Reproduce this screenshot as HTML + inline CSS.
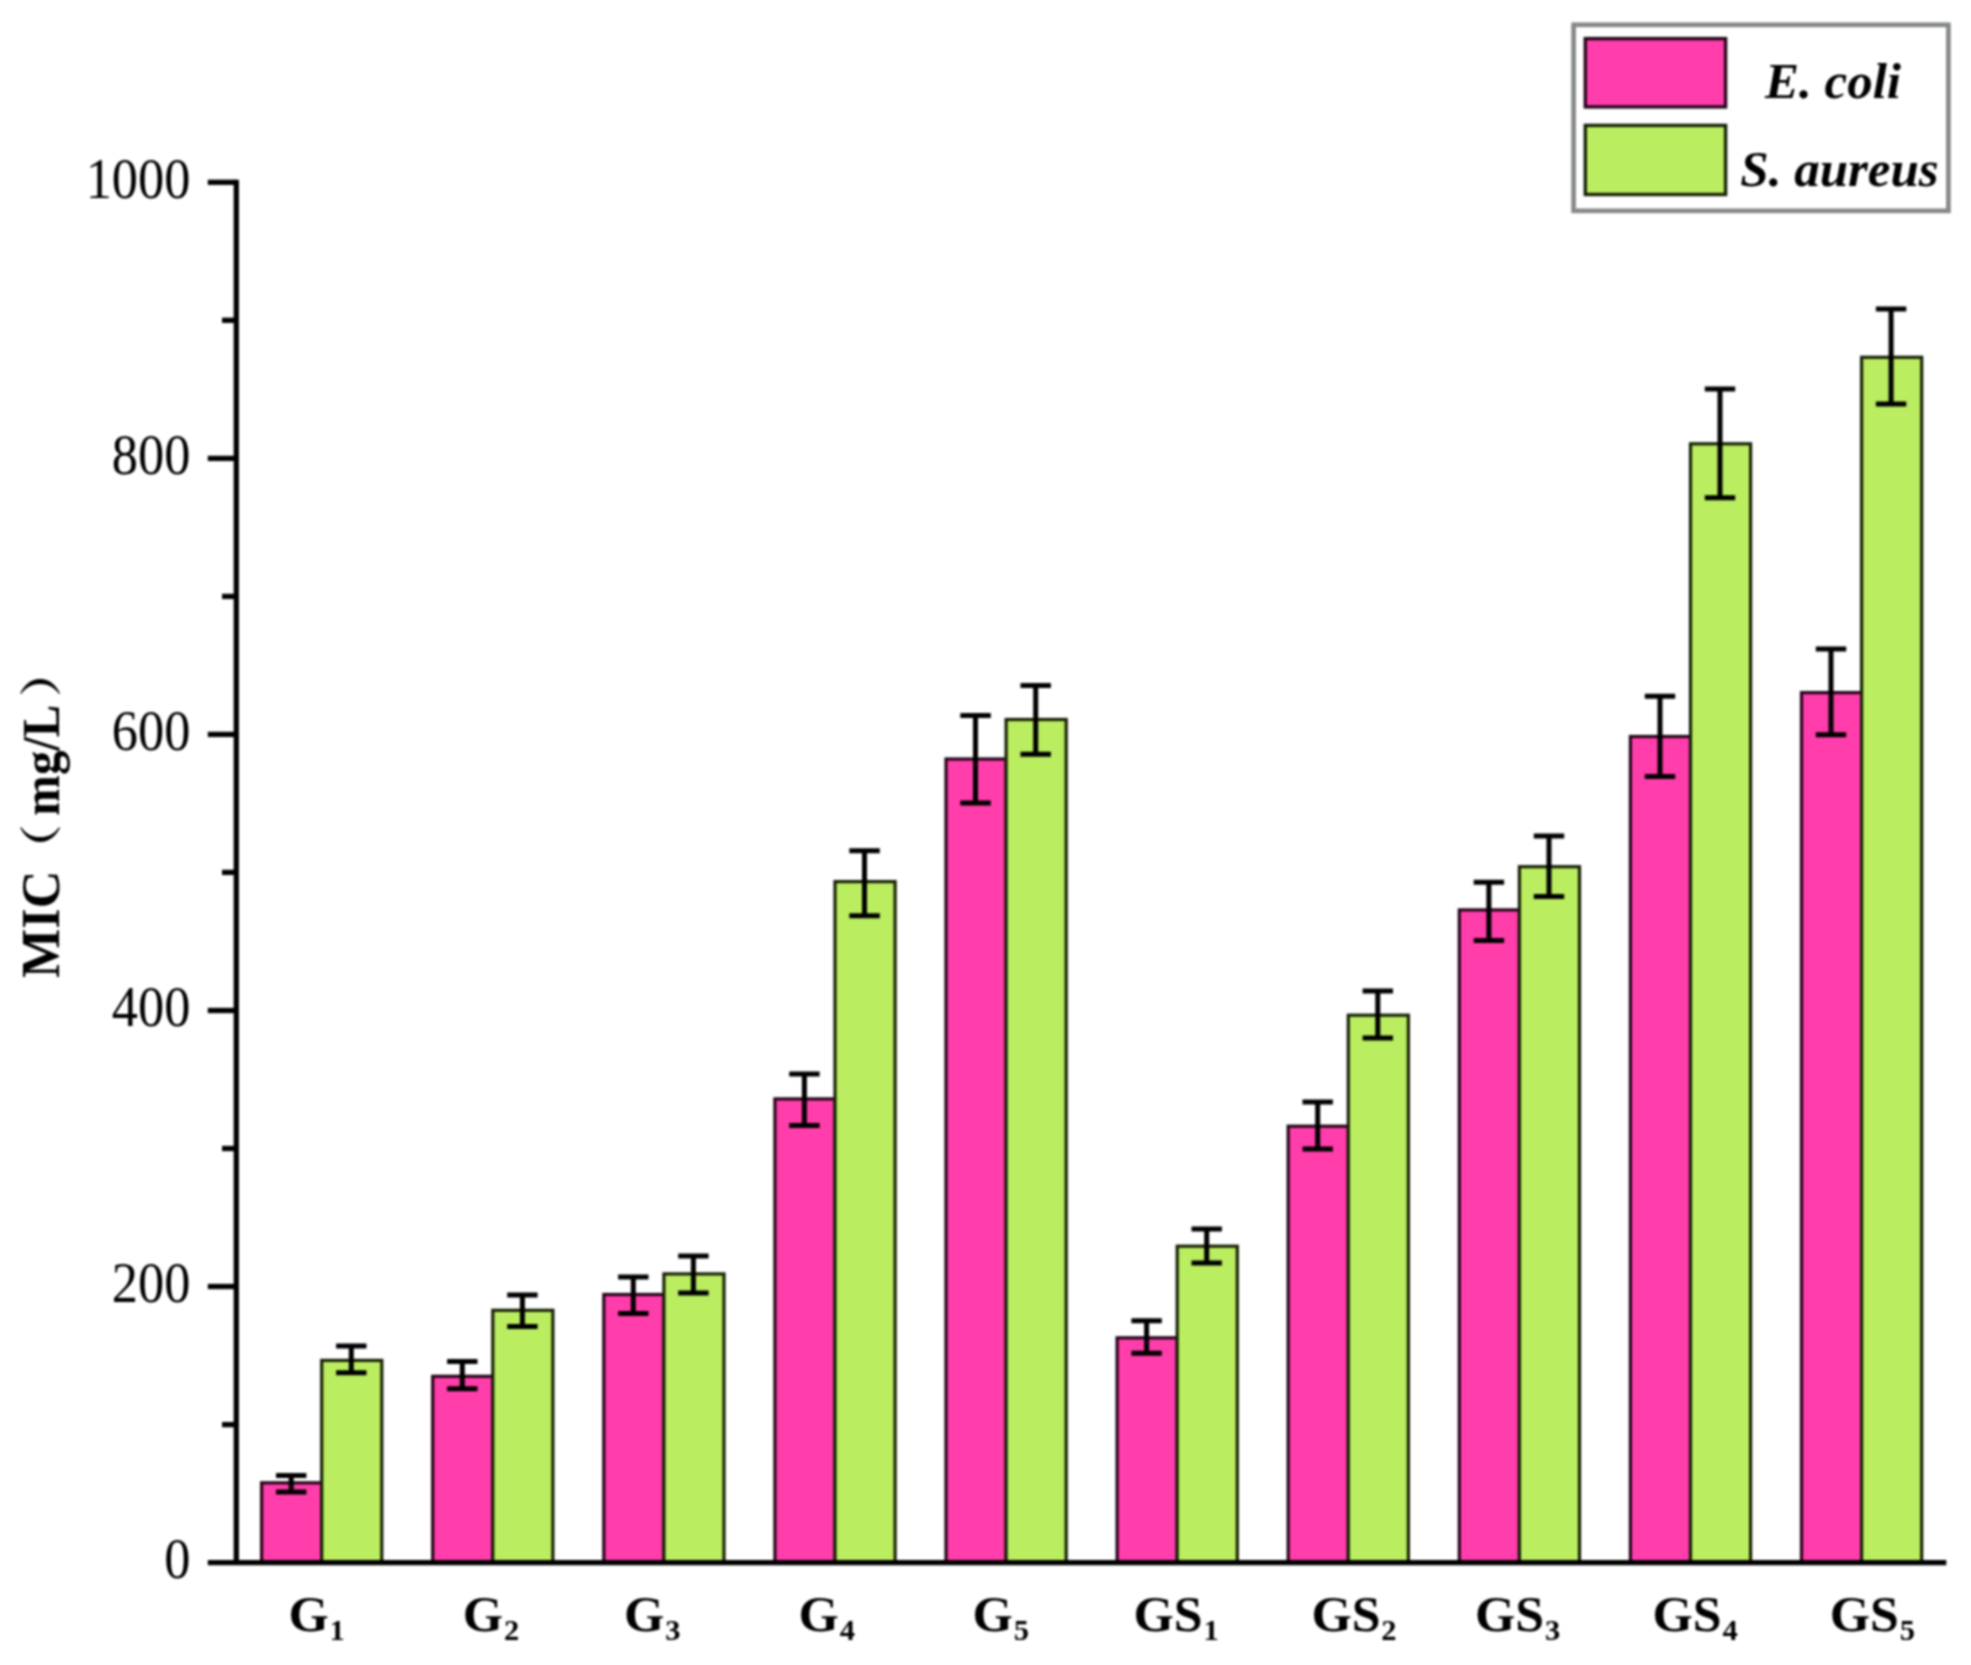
<!DOCTYPE html>
<html lang="en"><head><meta charset="utf-8"><title>MIC bar chart</title>
<style>html,body{margin:0;padding:0;background:#fff}body{width:1971px;height:1665px;overflow:hidden}svg{display:block;filter:blur(0.8px)}
text{font-family:"Liberation Serif","Noto Serif CJK SC",serif;fill:#000}
.tk{font-size:56px;text-anchor:end}.xl{font-size:50px;font-weight:bold}.sub{font-size:29.5px}.lg{font-size:51px;font-weight:bold;font-style:italic}.yt{font-size:50px;font-weight:bold}
</style></head><body>
<svg width="1971" height="1665" viewBox="0 0 1971 1665">
<rect width="1971" height="1665" fill="#fff"/>
<g stroke-width="3.2" stroke-linejoin="miter">
<rect x="261.6" y="1482.8" width="60.1" height="79.8" fill="#ff3dab" stroke="#26051a"/>
<rect x="321.7" y="1360.4" width="60.1" height="202.2" fill="#baed60" stroke="#172106"/>
<rect x="432.7" y="1376.3" width="60.1" height="186.3" fill="#ff3dab" stroke="#26051a"/>
<rect x="492.8" y="1310.3" width="60.1" height="252.3" fill="#baed60" stroke="#172106"/>
<rect x="603.8" y="1294.5" width="60.1" height="268.1" fill="#ff3dab" stroke="#26051a"/>
<rect x="663.9" y="1273.9" width="60.1" height="288.7" fill="#baed60" stroke="#172106"/>
<rect x="774.9" y="1098.9" width="60.1" height="463.7" fill="#ff3dab" stroke="#26051a"/>
<rect x="835.0" y="881.6" width="60.1" height="681.0" fill="#baed60" stroke="#172106"/>
<rect x="946.0" y="759.0" width="60.1" height="803.6" fill="#ff3dab" stroke="#26051a"/>
<rect x="1006.1" y="719.5" width="60.1" height="843.1" fill="#baed60" stroke="#172106"/>
<rect x="1117.1" y="1337.8" width="60.1" height="224.8" fill="#ff3dab" stroke="#26051a"/>
<rect x="1177.2" y="1246.2" width="60.1" height="316.4" fill="#baed60" stroke="#172106"/>
<rect x="1288.2" y="1126.2" width="60.1" height="436.4" fill="#ff3dab" stroke="#26051a"/>
<rect x="1348.3" y="1015.2" width="60.1" height="547.4" fill="#baed60" stroke="#172106"/>
<rect x="1459.3" y="909.9" width="60.1" height="652.7" fill="#ff3dab" stroke="#26051a"/>
<rect x="1519.4" y="866.7" width="60.1" height="695.9" fill="#baed60" stroke="#172106"/>
<rect x="1630.4" y="736.5" width="60.1" height="826.1" fill="#ff3dab" stroke="#26051a"/>
<rect x="1690.5" y="443.8" width="60.1" height="1118.8" fill="#baed60" stroke="#172106"/>
<rect x="1801.5" y="692.6" width="60.1" height="870.0" fill="#ff3dab" stroke="#26051a"/>
<rect x="1861.6" y="357.3" width="60.1" height="1205.3" fill="#baed60" stroke="#172106"/>
</g>
<g stroke="#000" stroke-width="5" fill="none">
<path d="M276.0 1475.6H306.4M276.0 1492.0H306.4M291.2 1475.6V1492.0"/>
<path d="M336.1 1346.0H366.5M336.1 1372.8H366.5M351.3 1346.0V1372.8"/>
<path d="M447.1 1361.5H477.5M447.1 1388.7H477.5M462.3 1361.5V1388.7"/>
<path d="M507.2 1295.0H537.6M507.2 1326.6H537.6M522.4 1295.0V1326.6"/>
<path d="M618.1 1277.0H648.5M618.1 1313.5H648.5M633.3 1277.0V1313.5"/>
<path d="M678.2 1256.0H708.6M678.2 1292.9H708.6M693.4 1256.0V1292.9"/>
<path d="M789.2 1074.0H819.6M789.2 1125.5H819.6M804.4 1074.0V1125.5"/>
<path d="M849.3 850.8H879.8M849.3 915.7H879.8M864.5 850.8V915.7"/>
<path d="M960.3 715.6H990.8M960.3 803.1H990.8M975.5 715.6V803.1"/>
<path d="M1020.5 685.4H1050.9M1020.5 754.2H1050.9M1035.7 685.4V754.2"/>
<path d="M1131.4 1320.8H1161.8M1131.4 1353.3H1161.8M1146.6 1320.8V1353.3"/>
<path d="M1191.5 1228.9H1221.9M1191.5 1263.1H1221.9M1206.7 1228.9V1263.1"/>
<path d="M1302.5 1102.0H1332.9M1302.5 1148.9H1332.9M1317.7 1102.0V1148.9"/>
<path d="M1362.6 991.0H1393.0M1362.6 1037.9H1393.0M1377.8 991.0V1037.9"/>
<path d="M1473.7 882.2H1504.1M1473.7 940.6H1504.1M1488.9 882.2V940.6"/>
<path d="M1533.8 836.0H1564.2M1533.8 896.6H1564.2M1549.0 836.0V896.6"/>
<path d="M1644.8 696.3H1675.2M1644.8 776.4H1675.2M1660.0 696.3V776.4"/>
<path d="M1704.8 389.0H1735.2M1704.8 497.8H1735.2M1720.0 389.0V497.8"/>
<path d="M1815.8 649.0H1846.2M1815.8 734.7H1846.2M1831.0 649.0V734.7"/>
<path d="M1875.9 308.9H1906.3M1875.9 403.9H1906.3M1891.1 308.9V403.9"/>
</g>
<g stroke="#000" stroke-width="5.3" fill="none">
<path d="M236.3 179.8V1565.1"/>
<path d="M207.8 1562.6H1946.3"/>
<path d="M207.8 1286.5H236.3"/>
<path d="M207.8 1010.5H236.3"/>
<path d="M207.8 734.4H236.3"/>
<path d="M207.8 458.4H236.3"/>
<path d="M207.8 182.3H236.3"/>
<path d="M222.0 1424.6H236.3"/>
<path d="M222.0 1148.5H236.3"/>
<path d="M222.0 872.4H236.3"/>
<path d="M222.0 596.4H236.3"/>
<path d="M222.0 320.3H236.3"/>
</g>
<text class="tk" transform="translate(190.4 1578.3) scale(0.935 1)">0</text>
<text class="tk" transform="translate(190.4 1302.2) scale(0.935 1)">200</text>
<text class="tk" transform="translate(190.4 1026.2) scale(0.935 1)">400</text>
<text class="tk" transform="translate(190.4 750.1) scale(0.935 1)">600</text>
<text class="tk" transform="translate(190.4 474.1) scale(0.935 1)">800</text>
<text class="tk" transform="translate(190.4 198.0) scale(0.935 1)">1000</text>
<text class="xl" transform="translate(288.4 1630.7) scale(1.035 1)">G<tspan class="sub" dx="0.9" dy="9.6">1</tspan></text>
<text class="xl" transform="translate(462.8 1630.7) scale(1.035 1)">G<tspan class="sub" dx="0.9" dy="9.6">2</tspan></text>
<text class="xl" transform="translate(624.0 1630.7) scale(1.035 1)">G<tspan class="sub" dx="0.9" dy="9.6">3</tspan></text>
<text class="xl" transform="translate(798.6 1630.7) scale(1.035 1)">G<tspan class="sub" dx="0.9" dy="9.6">4</tspan></text>
<text class="xl" transform="translate(972.5 1630.7) scale(1.035 1)">G<tspan class="sub" dx="0.9" dy="9.6">5</tspan></text>
<text class="xl" transform="translate(1133.6 1630.7) scale(1.035 1)">GS<tspan class="sub" dx="0.9" dy="9.6">1</tspan></text>
<text class="xl" transform="translate(1311.4 1630.7) scale(1.035 1)">GS<tspan class="sub" dx="0.9" dy="9.6">2</tspan></text>
<text class="xl" transform="translate(1475.0 1630.7) scale(1.035 1)">GS<tspan class="sub" dx="0.9" dy="9.6">3</tspan></text>
<text class="xl" transform="translate(1652.5 1630.7) scale(1.035 1)">GS<tspan class="sub" dx="0.9" dy="9.6">4</tspan></text>
<text class="xl" transform="translate(1829.8 1630.7) scale(1.035 1)">GS<tspan class="sub" dx="0.9" dy="9.6">5</tspan></text>
<text class="yt" transform="translate(59.3 978) rotate(-90)"><tspan x="0" y="0" font-size="54.5" textLength="107.4" lengthAdjust="spacingAndGlyphs">MIC</tspan><tspan x="104" y="-3" font-size="42" textLength="50" lengthAdjust="spacingAndGlyphs">（</tspan><tspan x="162.3" y="0" font-size="53.5" textLength="111.05" lengthAdjust="spacingAndGlyphs">mg/L</tspan><tspan x="281" y="-3" font-size="42" textLength="50" lengthAdjust="spacingAndGlyphs">）</tspan></text>
<rect x="1573.6" y="24.8" width="374.8" height="186" fill="#fff" stroke="#858987" stroke-width="4.7"/>
<rect x="1585.3" y="38.6" width="140.3" height="68.3" fill="#ff3dab" stroke="#26051a" stroke-width="3.4"/>
<rect x="1585.3" y="125.4" width="140.3" height="69.1" fill="#baed60" stroke="#172106" stroke-width="3.4"/>
<text class="lg" x="1765" y="98">E. coli</text>
<text class="lg" x="1740.3" y="186">S. aureus</text>
</svg></body></html>
